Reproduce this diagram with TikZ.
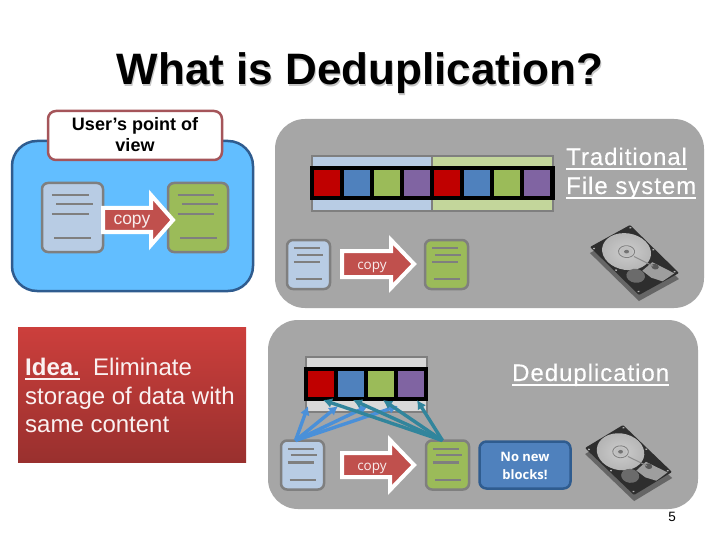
\documentclass[tikz,border=0pt]{standalone}
\usepackage{fontspec}
\setmainfont{Liberation Sans}
\newfontfamily\spaced[LetterSpace=4,FakeBold=0.25]{Liberation Sans}
\newfontfamily\humanist{Open Sans}
\usetikzlibrary{arrows.meta,calc}
\definecolor{panelgray}{HTML}{A6A6A6}
\definecolor{docblue}{HTML}{B8CCE4}
\definecolor{docgreen}{HTML}{9BBB59}
\definecolor{lightgreen}{HTML}{C3D69B}
\definecolor{linegray}{HTML}{7F7F7F}
\definecolor{sqred}{HTML}{C00000}
\definecolor{sqblue}{HTML}{4F81BD}
\definecolor{sqpurple}{HTML}{8064A2}
\definecolor{arrowred}{HTML}{C0504D}
\definecolor{skyfill}{HTML}{62BEFF}
\definecolor{skyline}{HTML}{2F5C8F}
\definecolor{rosy}{HTML}{A5555A}
\definecolor{tealline}{HTML}{31859C}
\definecolor{bluelink}{HTML}{4A90D9}
\definecolor{redtop}{HTML}{CC3F3C}
\definecolor{redbot}{HTML}{99302E}
\newcommand\ulinetext[1]{\leavevmode\setbox0=\hbox{#1}\rlap{\vrule width\wd0 height -3pt depth 4.6pt}\box0}
\tikzset{
  x=1pt,y=-1pt,
  panel/.style={fill=panelgray,draw=none,rounded corners=30pt},
  docbox/.style={draw=linegray,line width=2.5pt,rounded corners=6pt,inner sep=0pt,outer sep=0pt},
  docline/.style={draw=linegray,line width=2.3pt},
  stripcell/.style={draw=linegray,line width=2pt,inner sep=0pt,outer sep=0pt},
  blackbar/.style={fill=black,draw=none,inner sep=0pt,outer sep=0pt},
  sq/.style={draw=none,inner sep=0pt,outer sep=0pt,minimum width=26pt,minimum height=26pt},
  copyarrow/.style={fill=arrowred,draw=white,line width=4pt,line join=miter},
  copytext/.style={text=white!90!arrowred,inner sep=0pt,anchor=base},
  uhead/.style={text=white,inner sep=0pt,anchor=base west,font=\fontsize{24}{24}\selectfont\spaced},
  bluelinkarrow/.style={draw=bluelink,line width=3.4pt,-{Latex[length=9pt,width=10pt]}},
  teallinkarrow/.style={draw=tealline,line width=3.4pt,-{Latex[length=9pt,width=10pt]}},
}
% name, centre x, centre y, width, height, fill
\newcommand{\docicon}[6]{%
  \node[docbox,fill=#6,minimum width=#4pt,minimum height=#5pt] (#1) at (#2,#3) {};
  \begin{scope}[shift={($(#1.north west)$)},x=#4pt,y=-#5pt]
    \draw[docline] (.16,.17)--(.77,.17);
    \draw[docline] (.23,.30)--(.84,.30);
    \draw[docline] (.16,.45)--(.77,.45);
    \draw[docline] (.20,.80)--(.81,.80);
  \end{scope}}
% x0, head base x, tip x, cy, half body, half head
\newcommand{\copyshape}[6]{%
  \draw[copyarrow] (#1,#4-#5)--(#2,#4-#5)--(#2,#4-#6)--(#3,#4)--(#2,#4+#6)--(#2,#4+#5)--(#1,#4+#5)--cycle;}
% top x,y  u dx,dy  v dx,dy
\newcommand{\hdd}[6]{%
  \begin{scope}[shift={(#1pt,-#2pt)},x={(#3pt,-#4pt)},y={(#5pt,-#6pt)}]
    \fill[black!60] (.1,.08)--(1.1,.08)--(1.1,1.08)--(.1,1.08)--cycle;
    \fill[black!82,rounded corners=1pt] (0,0)--(1,0)--(1,1)--(0,1)--cycle;
    \begin{scope}
      \clip (0,0)--(1,0)--(1,1)--(0,1)--cycle;
      \shade[inner color=white!80!black,outer color=black!30] (.49,.33) circle[x radius=.47,y radius=.32];
    \end{scope}
    \draw[black!50,line width=.8pt] (.49,.33) circle[x radius=.16,y radius=.10];
    \fill[black!25] (.49,.33) circle[x radius=.12,y radius=.08];
    \fill[black!55] (.49,.33) circle[x radius=.05,y radius=.03];
    \fill[black!38] (.08,.97)--(.25,.66)--(.55,.70)--(.52,.86)--(.40,.99)--cycle;
    \fill[black!65] (.28,.74) circle[x radius=.07,y radius=.05];
    \fill[black!58] (.74,.72) circle[x radius=.18,y radius=.12];
    \draw[black!45,line width=1pt] (.30,.72)--(.45,.45);
    \foreach \a/\b in {.04/.04,.96/.05,.96/.5,.95/.95,.05/.95,.03/.5}
      \fill[white!70!black] (\a,\b) circle[x radius=.025,y radius=.015];
  \end{scope}}
\begin{document}
\begin{tikzpicture}
\useasboundingbox (0,0) rectangle (720,540);
\fill[white] (0,0) rectangle (720,540);
% title
\node[text=black!22,inner sep=0pt,anchor=base,font=\fontsize{44}{44}\selectfont\bfseries] (titleshadow) at (361.2,86.2) {What is Deduplication?};
\node[text=black,inner sep=0pt,anchor=base,font=\fontsize{44}{44}\selectfont\bfseries] (title) at (360,85) {What is Deduplication?};
% left panel
\draw[fill=skyfill,draw=skyline,line width=2.5pt,rounded corners=25pt] (12,141) rectangle (253,291);
\node[draw=rosy,fill=white,line width=2.5pt,rounded corners=8pt,minimum width=174pt,minimum height=49pt,inner sep=0pt] (userbox) at (135,135.5) {};
\node[inner sep=0pt,anchor=base,font=\fontsize{18}{21}\selectfont\bfseries] (userA) at (135,131) {User’s point of};
\node[inner sep=0pt,anchor=base,font=\fontsize{18}{21}\selectfont\bfseries] (userB) at (135,152) {view};
\docicon{docA}{72.5}{217.5}{61}{69}{docblue}
\docicon{docB}{198}{217.5}{60}{69}{docgreen}
\copyshape{103}{151}{173}{220}{12}{25}
\node[copytext,font=\fontsize{17.5}{18}\selectfont] (copyA) at (132,225) {copy};
% red box
\shade[top color=redtop,bottom color=redbot] (18,327) rectangle (246,462);
\node[text=white!92!arrowred,inner sep=0pt,anchor=base west,font=\fontsize{24}{24}\selectfont] (ideaA) at (25,375) {\ulinetext{\textbf{Idea.}}\ \ Eliminate};
\node[text=white!92!arrowred,inner sep=0pt,anchor=base west,font=\fontsize{24}{24}\selectfont] (ideaB) at (25,404) {storage of data with};
\node[text=white!92!arrowred,inner sep=0pt,anchor=base west,font=\fontsize{24}{24}\selectfont] (ideaC) at (25,432) {same content};
% traditional panel
\fill[panel] (275,119) rectangle (704,308);
\node[stripcell,fill=docblue,minimum width=120pt,minimum height=55pt] (stripL) at (372,183.5) {};
\node[stripcell,fill=lightgreen,minimum width=121pt,minimum height=55pt] (stripR) at (492.5,183.5) {};
\node[blackbar,minimum width=245pt,minimum height=34pt] (barT) at (432.5,183) {};
\foreach \n/\cx/\c in {a/327/sqred,b/357/sqblue,c/387/docgreen,d/417/sqpurple,e/447/sqred,f/477/sqblue,g/507/docgreen,h/537/sqpurple}
  \node[sq,fill=\c] (t\n) at (\cx,183) {};
\node[uhead] (tradA) at (566,165) {\ulinetext{Traditional}};
\node[uhead] (tradB) at (566,194) {\ulinetext{File system}};
\docicon{docC}{308.5}{264.5}{43}{49}{docblue}
\docicon{docD}{446.5}{264.5}{43}{49}{docgreen}
\copyshape{342}{391}{414}{264}{13}{24}
\node[copytext,font=\fontsize{13.5}{15}\humanist] (copyB) at (372,269) {copy};
\hdd{630}{225}{-40}{22}{49}{48}
% dedup panel
\fill[panel] (268,320) rectangle (698,509);
\node[stripcell,fill=black!15,minimum width=121pt,minimum height=55pt] (stripD) at (366.5,384.5) {};
\node[blackbar,minimum width=124pt,minimum height=34pt] (barD) at (366,384) {};
\foreach \n/\cx/\c in {a/321/sqred,b/351/sqblue,c/381/docgreen,d/411/sqpurple}
  \node[sq,fill=\c] (d\n) at (\cx,384) {};
\node[uhead] (dedup) at (512,381) {\ulinetext{Deduplication}};
\docicon{docE}{302.5}{465}{43}{49}{docblue}
\docicon{docF}{447.5}{465}{43}{49}{docgreen}
\copyshape{342}{390}{414}{465}{12}{25}
\node[copytext,font=\fontsize{13.5}{15}\humanist] (copyC) at (372,470) {copy};
\foreach \t/\o in {da/-13,db/-13,dc/-13,dd/-13}
  \draw[bluelinkarrow] ([xshift=-7pt]docE.north) -- ([xshift=\o pt,yshift=-9pt]\t.south);
\foreach \t/\o in {da/2,db/2,dc/2,dd/6}
  \draw[teallinkarrow] ([xshift=-5pt]docF.north) -- ([xshift=\o pt,yshift=-3pt]\t.south);
\node[draw=skyline,fill=sqblue,line width=2.5pt,rounded corners=7pt,minimum width=91pt,minimum height=47pt,inner sep=0pt] (nonew) at (525,465) {};
\node[text=white,inner sep=0pt,anchor=base,font=\fontsize{13}{15}\humanist\bfseries] (nonewA) at (525,461) {No new};
\node[text=white,inner sep=0pt,anchor=base,font=\fontsize{13}{15}\humanist\bfseries] (nonewB) at (525,479) {blocks!};
\hdd{623}{425}{-38}{23}{49}{47}
\node[inner sep=0pt,anchor=base,font=\fontsize{13.5}{15}\selectfont] (pagenum) at (672,521) {5};
\end{tikzpicture}
\end{document}
